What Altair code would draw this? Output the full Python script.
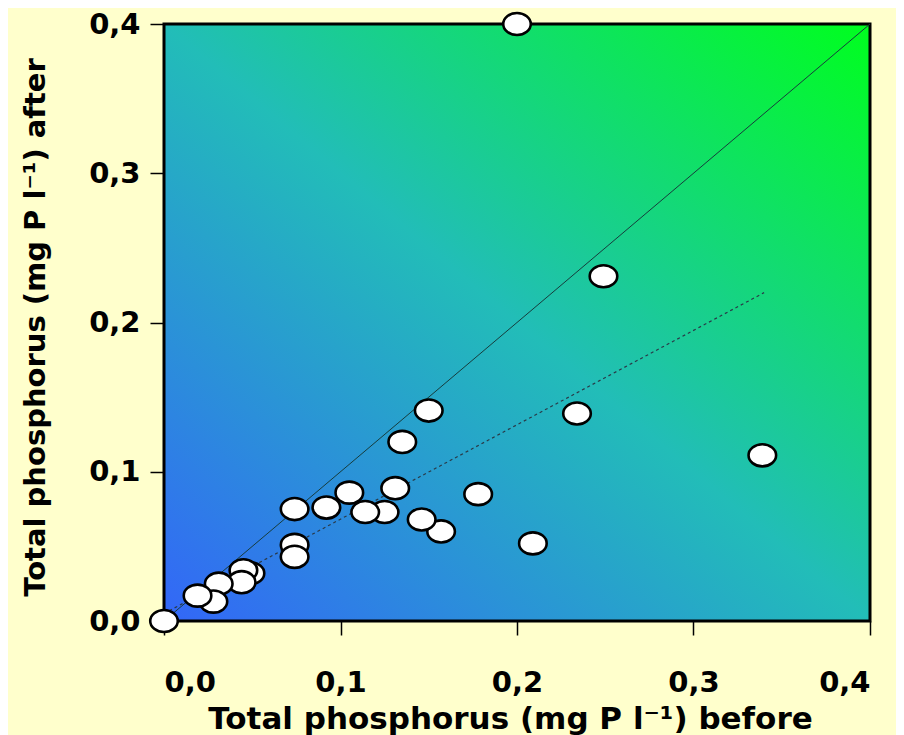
import altair as alt
import pandas as pd

# Data
before = [0.000, 0.200, 0.249, 0.234, 0.339, 0.150, 0.135, 0.178, 0.209, 0.157,
          0.146, 0.131, 0.125, 0.114, 0.105, 0.092, 0.074, 0.074, 0.074, 0.049,
          0.045, 0.044, 0.031, 0.028, 0.019]
after = [0.000, 0.400, 0.231, 0.139, 0.111, 0.141, 0.120, 0.085, 0.052, 0.060,
         0.068, 0.089, 0.073, 0.073, 0.086, 0.076, 0.075, 0.051, 0.043, 0.032,
         0.034, 0.026, 0.025, 0.013, 0.017]

one_to_one_x = [0.0, 0.4]
one_to_one_y = [0.0, 0.4]
fit_x = [0.0, 0.34]
fit_y = [0.005, 0.22]

axis_range = [0.0, 0.4]
tick_values = [0.0, 0.1, 0.2, 0.3, 0.4]

pts = pd.DataFrame({"before": before, "after": after, "order": list(range(len(before)))})
bg = pd.DataFrame({"x": [axis_range[0]], "x2": [axis_range[1]],
                   "y": [axis_range[0]], "y2": [axis_range[1]]})
line11 = pd.DataFrame({"before": one_to_one_x, "after": one_to_one_y})
fit = pd.DataFrame({"before": fit_x, "after": fit_y})

label_expr = "replace(format(datum.value, '.1f'), '.', ',')"

xscale = alt.Scale(domain=axis_range, nice=False, zero=False)
yscale = alt.Scale(domain=axis_range, nice=False, zero=False)

xaxis = alt.Axis(values=tick_values, labelExpr=label_expr, labelPadding=33,
                 labelFontSize=29,
                 title="Total phosphorus (mg P l⁻¹) before",
                 titleFontSize=31, titleX=346, titleY=107,
                 titleBaseline="alphabetic", titleAlign="center")
yaxis = alt.Axis(values=tick_values, labelExpr=label_expr, labelPadding=10,
                 labelFontSize=29,
                 title="Total phosphorus  (mg P l⁻¹) after",
                 titleFontSize=29, titleX=-129, titleY=303, titleAngle=-90,
                 titleBaseline="middle", titleAlign="center")

gradient = alt.LinearGradient(
    gradient="linear",
    stops=[alt.GradientStop(color="#3366F8", offset=0),
           alt.GradientStop(color="#22BDB8", offset=0.5),
           alt.GradientStop(color="#00FF1E", offset=1)],
    x1=0, x2=1, y1=1, y2=0,
)

background = alt.Chart(bg).mark_rect(
    color=gradient, stroke="black", strokeWidth=3
).encode(
    x=alt.X("x:Q", scale=xscale, axis=xaxis),
    x2="x2:Q",
    y=alt.Y("y:Q", scale=yscale, axis=yaxis),
    y2="y2:Q",
)

one_line = alt.Chart(line11).mark_line(color="#173c3c", strokeWidth=1).encode(
    x=alt.X("before:Q", scale=xscale),
    y=alt.Y("after:Q", scale=yscale),
)

fit_line = alt.Chart(fit).mark_line(color="#2a3a48", strokeWidth=1.2,
                                    strokeDash=[3, 3]).encode(
    x=alt.X("before:Q", scale=xscale),
    y=alt.Y("after:Q", scale=yscale),
)

ellipse = "M-1,0A1,0.8,0,1,0,1,0A1,0.8,0,1,0,-1,0Z"
points = alt.Chart(pts).mark_point(
    shape=ellipse, filled=True, fill="white", stroke="black",
    strokeWidth=2.6, size=760, opacity=1, fillOpacity=1
).encode(
    x=alt.X("before:Q", scale=xscale),
    y=alt.Y("after:Q", scale=yscale),
    order="order:Q",
)

chart = alt.layer(background, one_line, fit_line, points).properties(
    width=706, height=597,
    autosize=alt.AutoSizeParams(type="none"),
    padding={"left": 156, "top": 16, "right": 26, "bottom": 114},
    background="#FFFFCC",
).configure_view(stroke=None).configure_axis(
    grid=False, domain=False,
    labelFont="DejaVu Sans", labelFontWeight="bold",
    labelColor="black", tickColor="black", tickWidth=1.5, tickSize=14,
    titleFont="DejaVu Sans", titleFontWeight="bold", titleColor="black",
)

chart.save("out.html", embed_options={"renderer": "svg", "actions": False})
